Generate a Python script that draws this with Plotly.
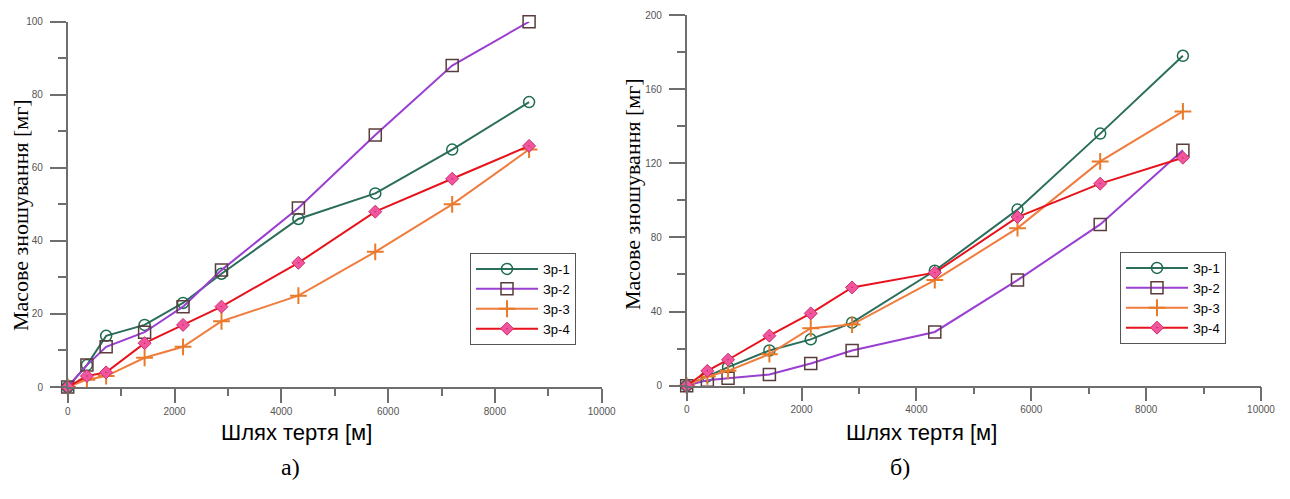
import plotly.graph_objects as go

# ---- data ----
x_path = [0, 360, 720, 1440, 2160, 2880, 4320, 5760, 7200, 8640]
series_names = ["Зр-1", "Зр-2", "Зр-3", "Зр-4"]

a_zr1 = [0, 6, 14, 17, 23, 31, 46, 53, 65, 78]
a_zr2 = [0, 6, 11, 15, 22, 32, 49, 69, 88, 100]
a_zr3 = [0, 2, 3, 8, 11, 18, 25, 37, 50, 65]
a_zr4 = [0, 3, 4, 12, 17, 22, 34, 48, 57, 66]

b_zr1 = [0, 5, 10, 19, 25, 34, 62, 95, 136, 178]
b_zr2 = [0, 3, 4, 6, 12, 19, 29, 57, 87, 127]
b_zr3 = [0, 5, 8, 17, 31, 33, 57, 85, 121, 148]
b_zr4 = [0, 8, 14, 27, 39, 53, 61, 91, 109, 123]

x_ticks = [0, 2000, 4000, 6000, 8000, 10000]
x_tick_labels = ["0", "2000", "4000", "6000", "8000", "10000"]
a_y_ticks = [0, 20, 40, 60, 80, 100]
b_y_ticks = [0, 40, 80, 120, 160, 200]

y_title = "Масове зношування [мг]"
x_title = "Шлях тертя [м]"
captions = ["а)", "б)"]

# ---- styles ----
styles = [
    dict(line=dict(color="#2b6e5c", width=2),
         marker=dict(symbol="circle-open", size=11, color="#1d6b4c", line=dict(width=1.5))),
    dict(line=dict(color="#9a3fd1", width=2),
         marker=dict(symbol="square-open", size=12, color="#5a3c3c", line=dict(width=1.5))),
    dict(line=dict(color="#f07c3e", width=2),
         marker=dict(symbol="cross-thin", size=12, color="#e87a2a", line=dict(width=2, color="#e87a2a"))),
    dict(line=dict(color="#e8121c", width=2),
         marker=dict(symbol="diamond-dot", size=10, color="#f2559e", line=dict(width=1, color="#c8306e"))),
]

fig = go.Figure()
for ys, st, nm in zip([a_zr1, a_zr2, a_zr3, a_zr4], styles, series_names):
    fig.add_trace(go.Scatter(x=x_path, y=ys, name=nm, mode="lines+markers",
                             line=st["line"], marker=st["marker"], cliponaxis=False,
                             xaxis="x", yaxis="y", legend="legend"))
for ys, st, nm in zip([b_zr1, b_zr2, b_zr3, b_zr4], styles, series_names):
    fig.add_trace(go.Scatter(x=x_path, y=ys, name=nm, mode="lines+markers",
                             line=st["line"], marker=st["marker"], cliponaxis=False,
                             xaxis="x2", yaxis="y2", legend="legend2"))

W, H = 1290, 499
OFF = 8  # page body margin


def px(x):
    return (x - OFF) / W


def py(y):
    return 1 - (y - OFF) / H


axis_common = dict(showline=True, linecolor="#6e6e6e", linewidth=1.5, showgrid=False, zeroline=False,
                   ticks="outside", tickcolor="#6e6e6e", tickwidth=1.5, automargin=False,
                   tickfont=dict(family="Liberation Sans, Arial", size=10, color="#555555"))

xa = dict(axis_common, range=[0, 10000], tickvals=x_ticks, ticktext=x_tick_labels, ticklen=14,
          minor=dict(tickvals=[1000, 3000, 5000, 7000, 9000], ticks="outside", ticklen=7,
                     tickcolor="#6e6e6e", tickwidth=1.5),
          ticklabelstandoff=0)

legend_common = dict(xanchor="left", yanchor="top",
                     bordercolor="#555555", borderwidth=1, bgcolor="white",
                     font=dict(family="Liberation Sans, Arial", size=13, color="black"),
                     itemwidth=62)

fig.update_layout(
    template="none",
    width=W, height=H, margin=dict(l=0, r=0, t=0, b=0, autoexpand=False),
    paper_bgcolor="white", plot_bgcolor="white",
    xaxis=dict(xa, domain=[px(67.7), px(601.7)], anchor="y"),
    yaxis=dict(axis_common, range=[0, 100], tickvals=a_y_ticks, ticklen=16,
               minor=dict(tickvals=[10, 30, 50, 70, 90], ticks="outside", ticklen=8,
                          tickcolor="#6e6e6e", tickwidth=1.5),
               domain=[py(387), py(21.7)], anchor="x", ticklabelstandoff=5),
    xaxis2=dict(xa, domain=[px(686.7), px(1261)], anchor="y2"),
    yaxis2=dict(axis_common, range=[0, 200], tickvals=b_y_ticks, ticklen=16,
                minor=dict(tickvals=[20, 60, 100, 140, 180], ticks="outside", ticklen=8,
                           tickcolor="#6e6e6e", tickwidth=1.5),
                domain=[py(385.7), py(15)], anchor="x2", ticklabelstandoff=5),
    legend=dict(legend_common, x=px(470), y=py(253)),
    legend2=dict(legend_common, x=px(1120), y=py(252)),
    showlegend=True,
)

annots = [
    dict(text=y_title, x=px(20), y=py(215), textangle=-90,
         font=dict(family="Liberation Serif, Times New Roman", size=22, color="black")),
    dict(text=y_title, x=px(633), y=py(194), textangle=-90,
         font=dict(family="Liberation Serif, Times New Roman", size=22, color="black")),
    dict(text=x_title, x=px(296), y=py(432),
         font=dict(family="Liberation Sans, Arial", size=22, color="black")),
    dict(text=x_title, x=px(922), y=py(432),
         font=dict(family="Liberation Sans, Arial", size=22, color="black")),
    dict(text=captions[0], x=px(290), y=py(467),
         font=dict(family="Liberation Serif, Times New Roman", size=24, color="black")),
    dict(text=captions[1], x=px(900), y=py(467),
         font=dict(family="Liberation Serif, Times New Roman", size=24, color="black")),
]
for a in annots:
    fig.add_annotation(xref="paper", yref="paper", showarrow=False,
                       xanchor="center", yanchor="middle", **a)

fig.write_html("out.html")
